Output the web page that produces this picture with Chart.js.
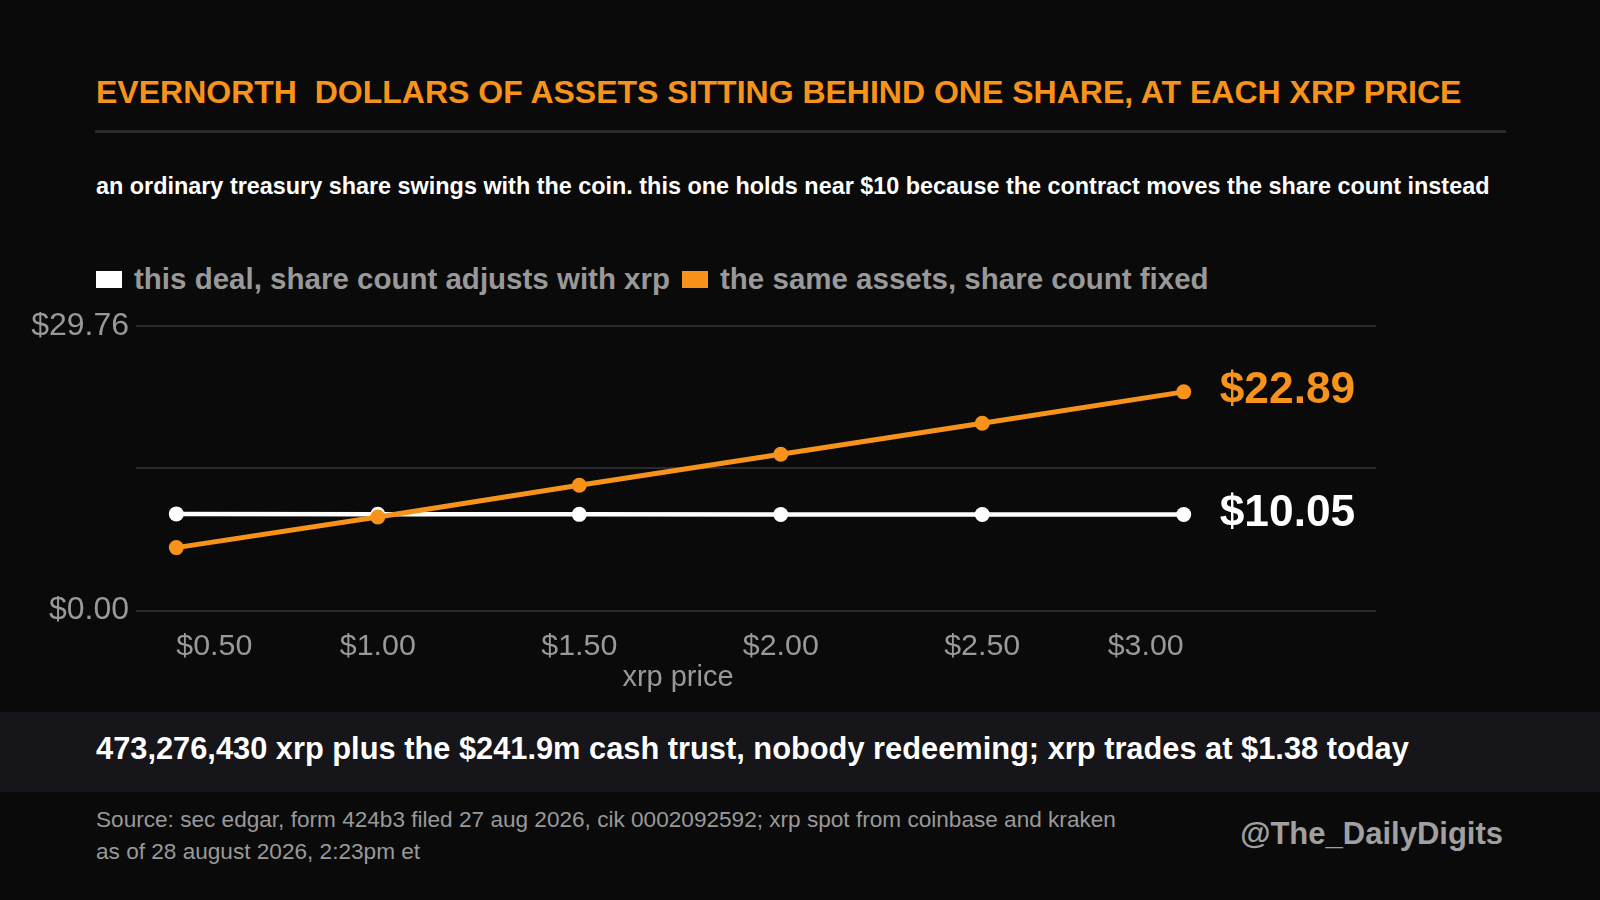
<!DOCTYPE html>
<html>
<head>
<meta charset="utf-8">
<script src="https://cdn.jsdelivr.net/npm/chart.js@4.4.1/dist/chart.umd.min.js"></script>
<style>
    html, body {
        margin: 0;
        padding: 0;
        background: #0a0a0a;
        width: 1600px;
        height: 900px;
        overflow: hidden;
        font-family: "Liberation Sans", Arial, sans-serif;
    }
    .abs { position: absolute; white-space: pre; }
    #title { left: 96px; top: 76px; font-size: 32px; line-height: 32px; font-weight: bold; color: #f7931a; }
    #rule { left: 95px; top: 130px; width: 1411px; height: 3px; background: #2a2a2e; }
    #subtitle { left: 96px; top: 175px; font-size: 23.4px; line-height: 23.4px; font-weight: bold; color: #ffffff; }
    #legend { left: 96px; top: 265px; height: 28px; display: flex; align-items: center; }
    .legend-item { display: flex; align-items: center; margin-right: 12px; font-size: 29.5px; line-height: 28px; font-weight: bold; color: #999999; }
    .legend-box { width: 26px; height: 17px; margin-right: 12px; }
    #chartWrap { left: 0; top: 300px; width: 1600px; height: 400px; }
    #band { left: 0; top: 712px; width: 1600px; height: 80px; background: #15151a; }
    #bandText { left: 96px; top: 734px; font-size: 30.8px; line-height: 30px; font-weight: bold; color: #ffffff; }
    #source { left: 96px; top: 804px; font-size: 22.6px; line-height: 32px; color: #999999; }
    #handle { right: 97px; top: 818px; font-size: 31px; line-height: 31px; font-weight: bold; color: #a0a0a0; }
</style>
</head>
<body>
<div class="abs" id="title">EVERNORTH  DOLLARS OF ASSETS SITTING BEHIND ONE SHARE, AT EACH XRP PRICE</div>
<div class="abs" id="rule"></div>
<div class="abs" id="subtitle">an ordinary treasury share swings with the coin. this one holds near $10 because the contract moves the share count instead</div>
<div class="abs" id="legend"></div>
<div class="abs" id="chartWrap"><canvas id="assetChart"></canvas></div>
<div class="abs" id="band"></div>
<div class="abs" id="bandText">473,276,430 xrp plus the $241.9m cash trust, nobody redeeming; xrp trades at $1.38 today</div>
<div class="abs" id="source">Source: sec edgar, form 424b3 filed 27 aug 2026, cik 0002092592; xrp spot from coinbase and kraken
as of 28 august 2026, 2:23pm et</div>
<div class="abs" id="handle">@The_DailyDigits</div>

<script>
// 数据
const xrpPrices = [0.50, 1.00, 1.50, 2.00, 2.50, 3.00];
const xTickLabels = ['$0.50', '$1.00', '$1.50', '$2.00', '$2.50', '$3.00'];
const adjustingShare = [10.12, 10.08, 10.07, 10.06, 10.05, 10.05];
const fixedShare = [6.59, 9.80, 13.12, 16.36, 19.60, 22.89];
const yTicks = [0, 14.88, 29.76];
const yTickLabels = ['$0.00', '', '$29.76'];
const seriesNames = ['this deal, share count adjusts with xrp', 'the same assets, share count fixed'];
const seriesColors = ['#ffffff', '#f7931a'];

const FONT = '"Liberation Sans", Arial, sans-serif';

// 图例
function buildLegend() {
    const legend = document.getElementById('legend');
    seriesNames.forEach((name, i) => {
        const item = document.createElement('div');
        item.className = 'legend-item';
        item.innerHTML = `<span class="legend-box" style="background:${seriesColors[i]}"></span><span>${name}</span>`;
        legend.appendChild(item);
    });
}

// 横向网格线，延伸到图区右侧
const wideGridPlugin = {
    id: 'wideGrid',
    beforeDatasetsDraw(chart) {
        const { ctx, chartArea, scales } = chart;
        ctx.save();
        ctx.strokeStyle = '#2a2a2e';
        ctx.lineWidth = 2;
        scales.y.ticks.forEach(t => {
            const y = Math.round(scales.y.getPixelForValue(t.value));
            ctx.beginPath();
            ctx.moveTo(chartArea.left, y);
            ctx.lineTo(chartArea.right + 156, y);
            ctx.stroke();
        });
        ctx.restore();
    }
};

// 末端数值标签
const endLabelPlugin = {
    id: 'endLabels',
    afterDatasetsDraw(chart) {
        const { ctx } = chart;
        ctx.save();
        ctx.font = `bold 44.3px ${FONT}`;
        ctx.textAlign = 'left';
        ctx.textBaseline = 'middle';
        chart.data.datasets.forEach((ds, i) => {
            const meta = chart.getDatasetMeta(i);
            const last = meta.data[meta.data.length - 1];
            const value = ds.data[ds.data.length - 1].y;
            ctx.fillStyle = ds.borderColor;
            ctx.fillText('$' + value.toFixed(2), last.x + 36, last.y - 1);
        });
        ctx.restore();
    }
};

function toPoints(values) {
    return values.map((v, i) => ({ x: xrpPrices[i], y: v }));
}

function initChart() {
    const ctx = document.getElementById('assetChart');
    new Chart(ctx, {
        type: 'line',
        data: {
            datasets: [{
                label: seriesNames[0],
                data: toPoints(adjustingShare),
                borderColor: seriesColors[0],
                backgroundColor: seriesColors[0],
                borderWidth: 4.5,
                pointRadius: 7.5,
                pointBorderWidth: 0,
                pointBackgroundColor: seriesColors[0],
                tension: 0,
                order: 1
            }, {
                label: seriesNames[1],
                data: toPoints(fixedShare),
                borderColor: seriesColors[1],
                backgroundColor: seriesColors[1],
                borderWidth: 5,
                pointRadius: 7.5,
                pointBorderWidth: 0,
                pointBackgroundColor: seriesColors[1],
                tension: 0,
                order: 0
            }]
        },
        options: {
            responsive: true,
            maintainAspectRatio: false,
            animation: false,
            layout: {
                padding: { top: 19.5, right: 380, bottom: 6, left: 0 }
            },
            plugins: {
                legend: { display: false },
                tooltip: { enabled: false }
            },
            scales: {
                x: {
                    type: 'linear',
                    min: 0.4,
                    max: 3.09,
                    afterBuildTicks: scale => {
                        scale.ticks = xrpPrices.map(v => ({ value: v }));
                    },
                    ticks: {
                        align: 'inner',
                        padding: 21,
                        color: '#999999',
                        font: { family: FONT, size: 30.4, lineHeight: 1 },
                        callback: (value, index) => xTickLabels[index]
                    },
                    grid: { display: false, drawTicks: false },
                    border: { display: false },
                    title: {
                        display: true,
                        text: 'xrp price',
                        color: '#999999',
                        padding: { top: -20, bottom: 2 },
                        font: { family: FONT, size: 29, lineHeight: 1 }
                    }
                },
                y: {
                    min: 0,
                    max: 29.76,
                    afterBuildTicks: scale => {
                        scale.ticks = yTicks.map(v => ({ value: v }));
                    },
                    afterFit: scale => {
                        scale.width = 136;
                    },
                    ticks: {
                        padding: 7,
                        color: '#999999',
                        font: { family: FONT, size: 32 },
                        callback: (value, index) => yTickLabels[index]
                    },
                    grid: { display: false, drawTicks: false },
                    border: { display: false }
                }
            }
        },
        plugins: [wideGridPlugin, endLabelPlugin]
    });
}

document.addEventListener('DOMContentLoaded', function() {
    buildLegend();
    initChart();
});
</script>
</body>
</html>
